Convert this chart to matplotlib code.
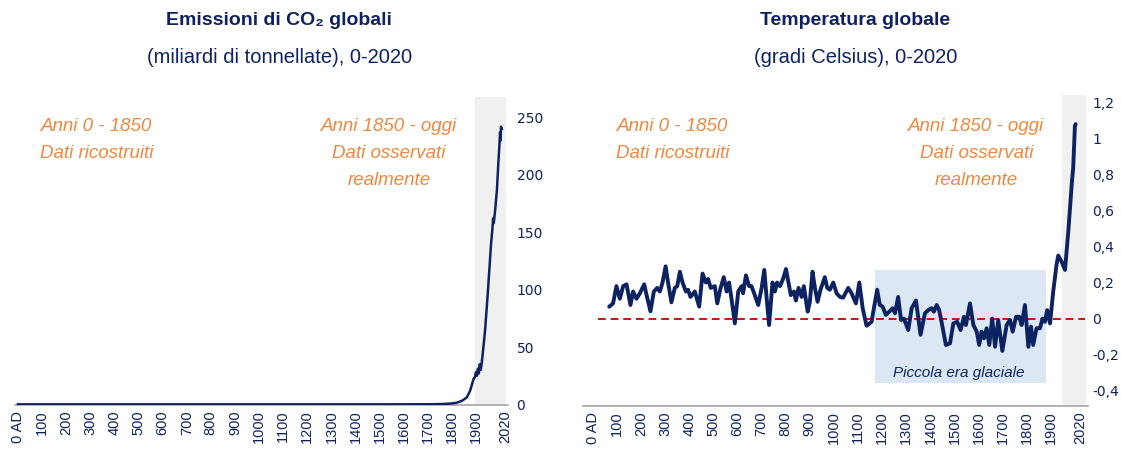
import matplotlib
matplotlib.use("Agg")
import matplotlib.pyplot as plt

NAVY = "#0d2260"
ORANGE = "#f0883e"
RED = "#d01010"
GREY_BAND = "#f0f0f0"
BLUE_BAND = "#dce7f4"

NARROW = ["Liberation Sans Narrow", "Liberation Sans", "DejaVu Sans"]
ARIAL = ["Liberation Sans", "DejaVu Sans"]

# CO2 emissions (billions of tonnes)
co2_years = [0, 500, 1000, 1500, 1700, 1760, 1800, 1820, 1840, 1861, 1875, 1889,
             1895, 1899, 1903, 1907, 1911, 1915, 1919, 1923, 1930, 1937, 1944,
             1951, 1961, 1968, 1970, 1973, 1979, 1986, 1992, 1996, 1999, 2001,
             2003, 2006]
co2_values = [0, 0, 0, 0, 0.1, 0.3, 0.8, 1.5, 3, 6, 12, 22,
              24, 28, 25, 31, 27, 35, 30, 36, 50, 65, 85,
              106, 138, 155, 162, 158, 170, 187, 211, 225, 237, 230,
              242, 240]

# global temperature anomaly (degrees C)
temp_years = [68, 84, 98, 112, 126, 140, 156, 167, 181, 195, 213, 223, 239, 253,
              267, 278, 289, 302, 312, 326, 340, 350, 361, 372, 386, 395, 405,
              423, 441, 455, 469, 478, 489, 506, 516, 530, 543, 555, 565, 575,
              589, 603, 617, 623, 635, 648, 658, 669, 686, 700, 711, 721, 731,
              745, 755, 764, 776, 789, 801, 810, 821, 834, 842, 853, 866, 875,
              891, 900, 911, 921, 932, 944, 962, 972, 983, 997, 1011, 1025,
              1038, 1059, 1073, 1091, 1105, 1119, 1135, 1156, 1163, 1179, 1190,
              1202, 1215, 1229, 1243, 1253, 1266, 1278, 1290, 1308, 1322, 1340,
              1359, 1377, 1391, 1405, 1414, 1426, 1436, 1446, 1464, 1481, 1495,
              1511, 1525, 1539, 1547, 1564, 1578, 1592, 1602, 1612, 1622, 1633,
              1644, 1656, 1668, 1681, 1698, 1716, 1730, 1741, 1755, 1768, 1778,
              1792, 1806, 1817, 1826, 1840, 1854, 1865, 1875, 1884, 1896, 1909,
              1923, 1930, 1944, 1958, 1972, 1986, 1992, 1999, 2002]
temp_values = [0.066, 0.084, 0.18, 0.11, 0.18, 0.19, 0.075, 0.15, 0.11, 0.14,
               0.19, 0.13, 0.04, 0.15, 0.17, 0.15, 0.20, 0.29, 0.20, 0.09, 0.17,
               0.18, 0.26, 0.20, 0.15, 0.16, 0.12, 0.15, 0.066, 0.25, 0.20,
               0.22, 0.17, 0.18, 0.084, 0.17, 0.23, 0.15, 0.20, 0.11, -0.027,
               0.15, 0.18, 0.14, 0.24, 0.18, 0.18, 0.14, 0.075, 0.17, 0.27,
               0.11, -0.036, 0.20, 0.15, 0.20, 0.18, 0.22, 0.275, 0.21, 0.13,
               0.15, 0.10, 0.17, 0.12, 0.18, 0.038, 0.093, 0.26, 0.17, 0.093,
               0.16, 0.23, 0.17, 0.16, 0.20, 0.14, 0.12, 0.116, 0.17, 0.14,
               0.084, 0.20, 0.057, -0.04, -0.018, 0.038, 0.16, 0.075, 0.066,
               0.02, 0.038, 0.057, 0.029, 0.12, -0.008, 0.0, -0.064, 0.057,
               0.10, -0.09, 0.029, 0.047, 0.057, 0.038, 0.075, 0.047, -0.018,
               -0.147, -0.138, -0.027, -0.018, -0.064, 0.01, -0.036, 0.084,
               -0.036, -0.073, -0.147, -0.073, -0.11, -0.054, -0.147, 0.0,
               -0.157, -0.008, -0.18, -0.036, -0.008, -0.073, 0.01, 0.01,
               -0.036, 0.075, -0.157, -0.045, -0.147, -0.054, -0.054, 0.0,
               -0.018, 0.047, -0.027, 0.15, 0.30, 0.35, 0.315, 0.27, 0.49,
               0.75, 0.84, 1.07, 1.08]

x_ticks = [0, 100, 200, 300, 400, 500, 600, 700, 800, 900, 1000, 1100, 1200,
           1300, 1400, 1500, 1600, 1700, 1800, 1900, 2020]
x_labels = ["0 AD"] + [str(t) for t in x_ticks[1:]]

co2_ticks = [0, 50, 100, 150, 200, 250]
temp_ticks = [-0.4, -0.2, 0, 0.2, 0.4, 0.6, 0.8, 1, 1.2]
temp_labels = ["-0,4", "-0,2", "0", "0,2", "0,4", "0,6", "0,8", "1", "1,2"]

fig = plt.figure(figsize=(11.21, 4.55), dpi=100)
ax1 = fig.add_axes([0.0134, 0.110, 0.440, 0.677])
ax2 = fig.add_axes([0.520, 0.1077, 0.4505, 0.6835])


def style_axis(ax):
    for side in ["top", "left", "right"]:
        ax.spines[side].set_visible(False)
    ax.spines["bottom"].set_color("#a6a6a6")
    ax.spines["bottom"].set_linewidth(1.2)
    ax.yaxis.tick_right()
    ax.tick_params(axis="both", length=0, colors=NAVY)
    ax.tick_params(axis="x", pad=4)
    ax.set_xticks(x_ticks)
    ax.set_xticklabels(x_labels, rotation=90, family=ARIAL, fontsize=10.5)


# left: emissions
style_axis(ax1)
ax1.set_xlim(-12, 2033)
ax1.set_ylim(-0.5, 268)
ax1.axvspan(1896, 2020, color=GREY_BAND, zorder=0)
ax1.plot(co2_years, co2_values, color=NAVY, lw=1.8, zorder=3)
ax1.set_yticks(co2_ticks)
ax1.set_yticklabels([str(v) for v in co2_ticks], family="DejaVu Sans", fontsize=10)
ax1.tick_params(axis="y", pad=6)

# right: temperature
style_axis(ax2)
ax2.set_xlim(-41, 2053)
ax2.set_ylim(-0.486, 1.242)
ax2.axvspan(1946, 2041, color=GREY_BAND, zorder=0)
ax2.fill_between([1170, 1879], -0.358, 0.27, color=BLUE_BAND, lw=0, zorder=0)
ax2.hlines(0, 21, 2041, colors=RED, linestyles=(0, (4, 2.5)), lw=1.4, zorder=2)
ax2.plot(temp_years, temp_values, color=NAVY, lw=2.8, zorder=3,
         solid_joinstyle="round", solid_capstyle="round")
ax2.set_yticks(temp_ticks)
ax2.set_yticklabels(temp_labels, family="DejaVu Sans", fontsize=10)
ax2.tick_params(axis="y", pad=3)
ax2.text(1518, -0.30, "Piccola era glaciale", ha="center", va="center",
         style="italic", color=NAVY, fontsize=11, family=ARIAL)

# titles
fig.text(0.249, 0.956, "Emissioni di CO\u2082 globali", ha="center", va="center",
         fontsize=14, fontweight="bold", color=NAVY, family=NARROW)
fig.text(0.249, 0.873, "(miliardi di tonnellate), 0-2020", ha="center",
         va="center", fontsize=14.5, color=NAVY, family=NARROW)
fig.text(0.763, 0.956, "Temperatura globale", ha="center", va="center",
         fontsize=14, fontweight="bold", color=NAVY, family=NARROW)
fig.text(0.763, 0.873, "(gradi Celsius), 0-2020", ha="center", va="center",
         fontsize=14.5, color=NAVY, family=NARROW)

# period notes
notes_old = "Anni 0 - 1850\nDati ricostruiti"
notes_new = "Anni 1850 - oggi\nDati osservati\nrealmente"
for x, txt in [(0.0865, notes_old), (0.347, notes_new),
               (0.600, notes_old), (0.871, notes_new)]:
    fig.text(x, 0.740, txt, ha="center", va="top", style="italic",
             fontsize=13.5, color=ORANGE, family=NARROW, linespacing=1.75)

fig.savefig("out.png", dpi=100)
